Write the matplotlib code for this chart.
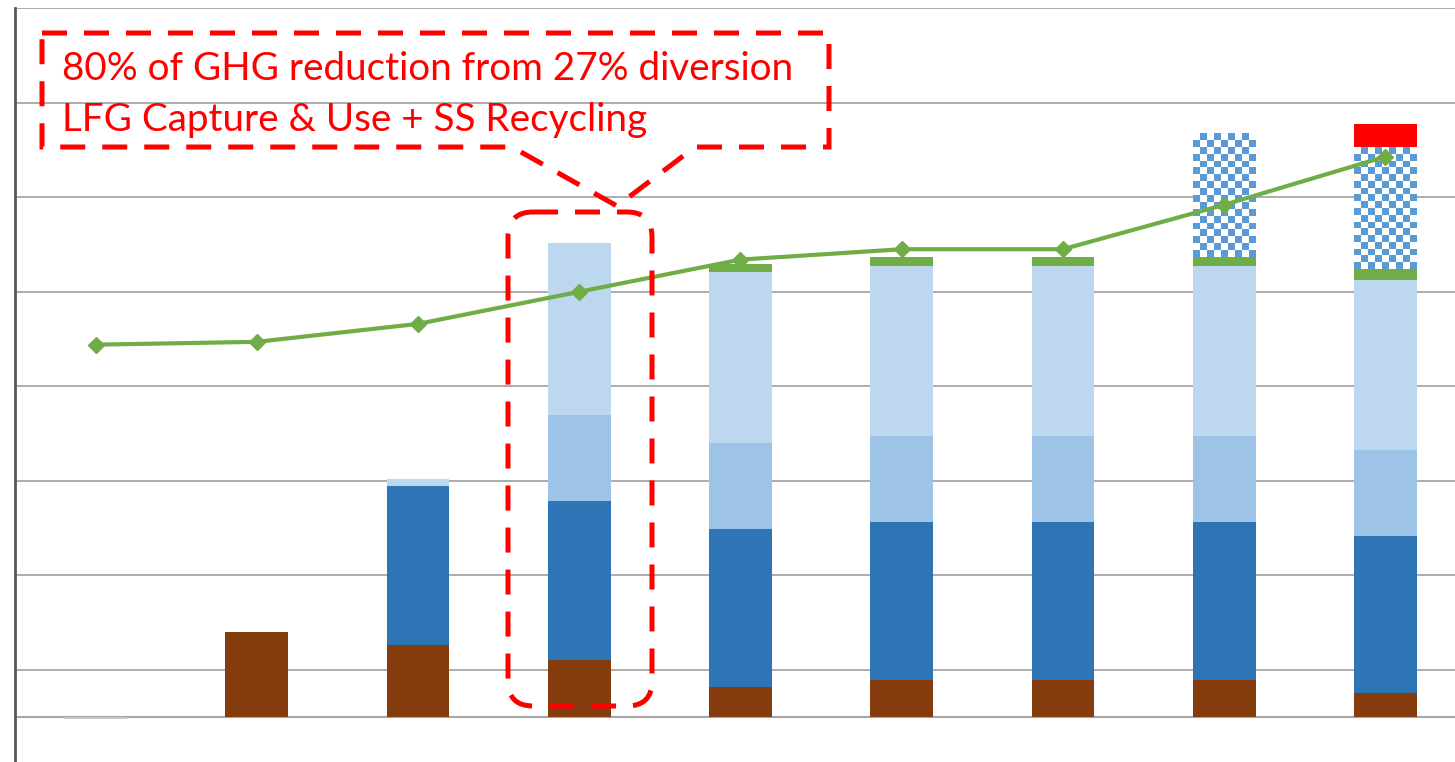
import numpy as np
import matplotlib.pyplot as plt
from matplotlib.patches import FancyBboxPatch, PathPatch
from matplotlib.path import Path
from matplotlib.transforms import Affine2D

# scenarios along the x axis (no labels shown)
scenarios = ["S1", "S2", "S3", "S4", "S5", "S6", "S7", "S8", "S9"]

# stacked components, bottom to top (MTCO2e, arbitrary units)
residual = [-0.025, 0, 0, 0, 0, 0, 0, 0, 0]
lfg = [0, 0.90, 0.76, 0.60, 0.32, 0.39, 0.39, 0.39, 0.25]
recycling = [0, 0, 1.68, 1.69, 1.67, 1.67, 1.67, 1.67, 1.67]
organics = [0, 0, 0, 0.91, 0.91, 0.91, 0.91, 0.91, 0.91]
ss_recycling = [0, 0, 0.08, 1.82, 1.81, 1.80, 1.80, 1.80, 1.79]
compost = [0, 0, 0, 0, 0.08, 0.10, 0.10, 0.10, 0.12]
wte = [0, 0, 0, 0, 0, 0, 0, 1.31, 1.29]
other = [0, 0, 0, 0, 0, 0, 0, 0, 0.25]

# total emissions trend line
trend = [3.94, 3.97, 4.16, 4.50, 4.84, 4.95, 4.95, 5.42, 5.93]

x = np.arange(len(scenarios))
w = 0.39

fig = plt.figure(figsize=(14.55, 7.62), dpi=100)
# plot area runs a little past the right edge of the image
ax = fig.add_axes([15 / 1455, 1 - 764.25 / 762, 1451 / 1455, 756 / 762])
ax.set_xlim(-0.5, 8.5)
ax.set_ylim(-0.5, 7.5)

for g in np.arange(-0.5, 7.6, 1.0):
    ax.axhline(g, color="#A6A6A6", lw=1.3, zorder=0)
ax.axhline(0, color="#A6A6A6", lw=1.5, zorder=0)

ax.bar(x, residual, w, color="#C8C8C8", zorder=2)
bottom = np.zeros(len(x))
layers = [(lfg, "#843C0C"), (recycling, "#2E75B6"), (organics, "#9DC3E6"),
          (ss_recycling, "#BDD7EE"), (compost, "#70AD47")]
for vals, col in layers:
    ax.bar(x, vals, w, bottom=bottom, color=col, zorder=2)
    bottom += np.array(vals)

# checkered segment drawn as a small image over each bar
for i, h in enumerate(wte):
    if h <= 0:
        continue
    ny = int(round(h * 94.5 / 6.8))
    nx = 9
    checker = (np.add.outer(np.arange(ny), np.arange(nx)) % 2).astype(float)
    ax.imshow(checker, cmap=plt.matplotlib.colors.ListedColormap(["white", "#5B9BD5"]),
              extent=(x[i] - w / 2, x[i] + w / 2, bottom[i], bottom[i] + h),
              interpolation="nearest", aspect="auto", zorder=2)
bottom += np.array(wte)
ax.bar(x, other, w, bottom=bottom, color="#FF0000", zorder=2)

ax.plot(x, trend, color="#70AD47", lw=3, marker="D", markersize=8, zorder=4)

for s in ["top", "right", "bottom"]:
    ax.spines[s].set_visible(False)
ax.spines["left"].set_color("#595959")
ax.spines["left"].set_linewidth(2)
ax.set_xticks([])
ax.set_yticks([])

# callout in image pixels (origin top-left)
px = Affine2D().scale(1 / 1455, -1 / 762).translate(0, 1) + fig.transFigure
dash = (0, (5, 3.4))
verts = [(42, 33), (829, 33), (829, 147), (695, 147), (617, 206),
         (512, 147), (42, 147), (42, 33)]
codes = [Path.MOVETO] + [Path.LINETO] * 6 + [Path.CLOSEPOLY]
fig.patches.append(PathPatch(Path(verts, codes), transform=px, fill=False,
                             ec="#FF0000", lw=3.6, ls=dash, zorder=5))
fig.patches.append(FancyBboxPatch((508, 212), 144, 494, transform=px,
                                  boxstyle="round,pad=0,rounding_size=25",
                                  fill=False, ec="#FF0000", lw=3.6, ls=dash, zorder=5))
fig.text(62 / 1455, 1 - 80 / 762, "80% of GHG reduction from 27% diversion",
         color="#FF0000", fontsize=27.8, family="Lato", va="baseline")
fig.text(62 / 1455, 1 - 131 / 762, "LFG Capture & Use + SS Recycling",
         color="#FF0000", fontsize=27.8, family="Lato", va="baseline")

fig.savefig("out.png", dpi=100)
